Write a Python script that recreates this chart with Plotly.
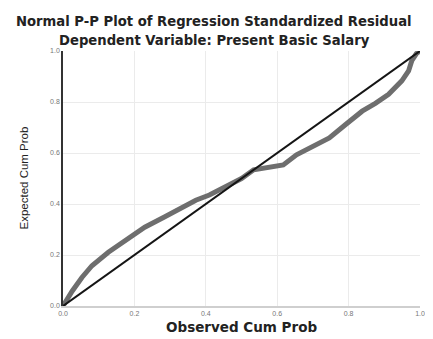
import plotly.graph_objects as go

# Observed vs expected cumulative probabilities
observed = [0.0, 0.01, 0.026, 0.053, 0.081, 0.127, 0.174, 0.229, 0.284, 0.34, 0.372,
            0.41, 0.469, 0.50, 0.534, 0.58, 0.617, 0.654, 0.70, 0.746, 0.79, 0.838,
            0.875, 0.912, 0.949, 0.968, 0.977, 0.99, 1.0]
expected = [0.0, 0.025, 0.059, 0.112, 0.158, 0.211, 0.257, 0.309, 0.349, 0.389, 0.415,
            0.435, 0.478, 0.50, 0.534, 0.545, 0.553, 0.593, 0.625, 0.659, 0.71, 0.764,
            0.795, 0.83, 0.883, 0.922, 0.962, 0.99, 1.0]
ref_line = [0.0, 1.0]
tick_vals = [0.0, 0.2, 0.4, 0.6, 0.8, 1.0]
tick_text = ["0.0", "0.2", "0.4", "0.6", "0.8", "1.0"]

fig = go.Figure()
fig.add_trace(go.Scatter(x=observed, y=expected, mode="lines",
                         line=dict(color="#6e6e6e", width=5), showlegend=False))
fig.add_trace(go.Scatter(x=ref_line, y=ref_line, mode="lines",
                         line=dict(color="#151515", width=2), showlegend=False))

# page body adds an 8px offset; compensate so the figure fits the 433x339 window
fig.update_layout(
    width=425, height=331,
    margin=dict(l=55, r=8, t=43, b=33),
    paper_bgcolor="white", plot_bgcolor="white",
    font=dict(family="Liberation Sans, Arial", color="#222"),
    xaxis=dict(range=[0, 1], tickvals=tick_vals, ticktext=tick_text,
               tickfont=dict(size=7, color="#777"), showgrid=True, gridcolor="#ebebeb",
               showline=True, linecolor="#cfcfcf", linewidth=1.5, zeroline=False,
               ticks=""),
    yaxis=dict(range=[0, 1], tickvals=tick_vals, ticktext=tick_text,
               tickfont=dict(size=7, color="#777"), showgrid=True, gridcolor="#ebebeb",
               showline=True, linecolor="#333", linewidth=1.5, zeroline=False,
               ticks=""),
)
bold = "DejaVu Sans, Liberation Sans"
fig.add_annotation(text="<b>Normal P-P Plot of Regression Standardized Residual</b>",
                   xref="paper", yref="paper", x=0.423, y=1.0, yshift=30, yanchor="middle",
                   xanchor="center", showarrow=False,
                   font=dict(size=13.2, color="#222", family=bold))
fig.add_annotation(text="<b>Dependent Variable: Present Basic Salary</b>",
                   xref="paper", yref="paper", x=0.423, y=1.0, yshift=11, yanchor="middle",
                   xanchor="center", showarrow=False,
                   font=dict(size=13.2, color="#222", family=bold))
fig.add_annotation(text="<b>Observed Cum Prob</b>",
                   xref="paper", yref="paper", x=0.5, y=0.0, yshift=-21, yanchor="middle",
                   xanchor="center", showarrow=False,
                   font=dict(size=13.5, color="#222", family=bold))
fig.add_annotation(text="Expected Cum Prob", textangle=-90,
                   xref="paper", yref="paper", x=0.0, xshift=-40, y=0.5,
                   xanchor="center", yanchor="middle", showarrow=False,
                   font=dict(size=11.5, color="#222", family="Liberation Sans"))
fig.write_html("out.html")
